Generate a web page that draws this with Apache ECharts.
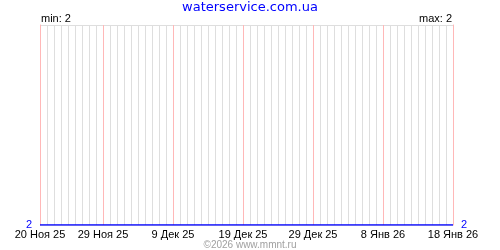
<!DOCTYPE html>
<html>
<head>
<meta charset="utf-8">
<script src="https://cdn.jsdelivr.net/npm/echarts@6/dist/echarts.min.js"></script>
<style>html,body{margin:0;padding:0;background:#fff}#c{width:500px;height:250px}</style>
</head>
<body>
<div id="c"></div>
<script>
const chartTitle = 'waterservice.com.ua';
const footerText = '©2026 www.mmnt.ru';
const days = [
 '20 Ноя 25','21 Ноя 25','22 Ноя 25','23 Ноя 25','24 Ноя 25','25 Ноя 25','26 Ноя 25','27 Ноя 25','28 Ноя 25','29 Ноя 25',
 '30 Ноя 25','1 Дек 25','2 Дек 25','3 Дек 25','4 Дек 25','5 Дек 25','6 Дек 25','7 Дек 25','8 Дек 25','9 Дек 25',
 '10 Дек 25','11 Дек 25','12 Дек 25','13 Дек 25','14 Дек 25','15 Дек 25','16 Дек 25','17 Дек 25','18 Дек 25','19 Дек 25',
 '20 Дек 25','21 Дек 25','22 Дек 25','23 Дек 25','24 Дек 25','25 Дек 25','26 Дек 25','27 Дек 25','28 Дек 25','29 Дек 25',
 '30 Дек 25','31 Дек 25','1 Янв 26','2 Янв 26','3 Янв 26','4 Янв 26','5 Янв 26','6 Янв 26','7 Янв 26','8 Янв 26',
 '9 Янв 26','10 Янв 26','11 Янв 26','12 Янв 26','13 Янв 26','14 Янв 26','15 Янв 26','16 Янв 26','17 Янв 26','18 Янв 26'
];
const values = [
 2,2,2,2,2,2,2,2,2,2,
 2,2,2,2,2,2,2,2,2,2,
 2,2,2,2,2,2,2,2,2,2,
 2,2,2,2,2,2,2,2,2,2,
 2,2,2,2,2,2,2,2,2,2,
 2,2,2,2,2,2,2,2,2,2
];
const yTicks = [2];
const labeledDays = ['20 Ноя 25','29 Ноя 25','9 Дек 25','19 Дек 25','29 Дек 25','8 Янв 26','18 Янв 26'];

const minV = Math.min.apply(null, values);
const maxV = Math.max.apply(null, values);
const G = '#dedede', P = '#ffb8b8';
const small = {fontFamily: 'Liberation Sans', fontSize: 11, color: '#000', fontWeight: 'normal'};
const isLabeled = function (i) { return labeledDays.indexOf(days[i]) >= 0; };

const chart = echarts.init(document.getElementById('c'), null, {renderer: 'canvas'});
chart.setOption({
  animation: false,
  backgroundColor: '#fff',
  title: [
    {text: chartTitle, left: 'center', top: 1, padding: 0,
     textStyle: {fontFamily: 'DejaVu Sans', fontSize: 13, fontWeight: 'normal', color: '#0000ff'}},
    {text: 'min: ' + minV, left: 41, top: 13, padding: 0, textStyle: small},
    {text: 'max: ' + maxV, right: 48, top: 13, padding: 0, textStyle: small},
    {text: footerText, left: 'center', top: 240, padding: 0,
     textStyle: {fontFamily: 'Liberation Sans', fontSize: 10, fontWeight: 'normal', color: '#a0a0a0'}}
  ],
  grid: {left: 40, right: 47, top: 25, bottom: 25, containLabel: false},
  xAxis: [{
    type: 'category', data: days, boundaryGap: false, position: 'bottom',
    axisLine: {show: false}, axisTick: {show: false},
    axisLabel: {
      interval: isLabeled,
      margin: 4, fontFamily: 'Liberation Sans', fontSize: 11, color: '#000', hideOverlap: false
    },
    splitLine: {show: true, interval: function (i) { return !isLabeled(i); },
      lineStyle: {width: 1, color: G}}
  }, {
    type: 'category', data: days, boundaryGap: false, position: 'top',
    axisLine: {show: false}, axisTick: {show: false}, axisLabel: {show: false},
    splitLine: {show: true, interval: isLabeled, lineStyle: {width: 1, color: P}}
  }],
  yAxis: [
    {type: 'value', min: 2, max: 3, interval: 1, position: 'left',
     axisLine: {show: true, lineStyle: {color: P}}, axisTick: {show: false},
     axisLabel: {margin: 8, fontFamily: 'Liberation Sans', fontSize: 11, color: '#0000ff',
       formatter: function (v) { return yTicks.indexOf(v) >= 0 ? String(v) : ''; }},
     splitLine: {show: true, lineStyle: {color: G, width: 1}}},
    {type: 'value', min: 2, max: 3, interval: 1, position: 'right',
     axisLine: {show: true, lineStyle: {color: P}}, axisTick: {show: false},
     axisLabel: {margin: 8, fontFamily: 'Liberation Sans', fontSize: 11, color: '#0000ff',
       formatter: function (v) { return yTicks.indexOf(v) >= 0 ? String(v) : ''; }},
     splitLine: {show: false}}
  ],
  series: [{
    type: 'line', data: values, symbol: 'none', xAxisIndex: 0, yAxisIndex: 0,
    lineStyle: {color: '#0000ff', width: 1.5}, z: 5
  }]
});
</script>
</body>
</html>
